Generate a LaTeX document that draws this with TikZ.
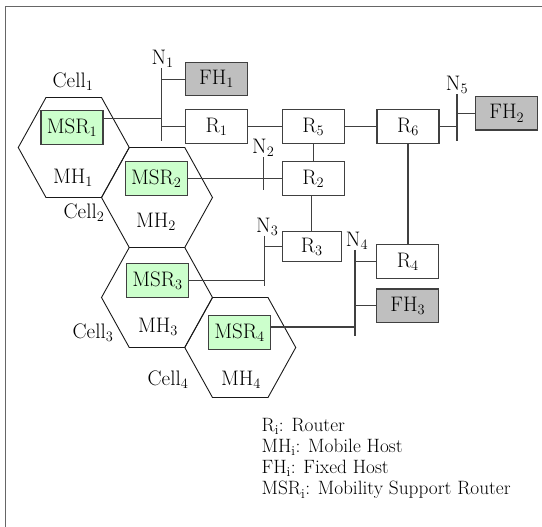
\documentclass[tikz,border=0pt]{standalone}
\usepackage{amsmath,amssymb}
\usepackage{fontspec}
\usepackage{tikz}
\usetikzlibrary{positioning,calc}

\begin{document}
\begin{tikzpicture}[
  x=1pt, y=-1pt,
  font=\fontsize{21}{24}\selectfont,
  frameline/.style={draw=black!60, line width=1.2pt},
  hexline/.style={draw=black!90, line width=0.9pt},
  netline/.style={draw=black!75, line width=1.1pt},
  rtbox/.style={rectangle, draw=black!75, fill=white, line width=1.1pt, minimum width=62pt, minimum height=33.5pt, inner sep=1pt},
  fhbox/.style={rtbox, fill=black!25},
  msrbox/.style={rtbox, fill=green!20},
  lbl/.style={inner sep=0.5pt}
]
  \useasboundingbox (0,0) rectangle (542,527);
  \draw[frameline] (5.5,527) -- (5.5,6.5) -- (542,6.5);

  % cells
  \foreach \cx/\cy in {73.75/147.5, 157/197.5, 157/297.5, 240.25/347.5}
    \draw[hexline] (\cx-55.5,\cy) -- (\cx-27.75,\cy-50) -- (\cx+27.75,\cy-50)
      -- (\cx+55.5,\cy) -- (\cx+27.75,\cy+50) -- (\cx-27.75,\cy+50) -- cycle;
  \node[lbl] (cell1) at (73,82) {Cell$_1$};
  \node[lbl] (cell2) at (84,213) {Cell$_2$};
  \node[lbl] (cell3) at (93,333) {Cell$_3$};
  \node[lbl] (cell4) at (168,380) {Cell$_4$};
  \node[lbl] (mh1) at (73,178) {MH$_1$};
  \node[lbl] (mh2) at (156,222) {MH$_2$};
  \node[lbl] (mh3) at (158,327) {MH$_3$};
  \node[lbl] (mh4) at (241,380) {MH$_4$};

  \node[msrbox] (msr1) at (72,127.5) {MSR$_1$};
  \node[msrbox] (msr2) at (156.3,178.7) {MSR$_2$};
  \node[msrbox] (msr3) at (157.5,280.3) {MSR$_3$};
  \node[msrbox] (msr4) at (239.5,332.5) {MSR$_4$};

  % routers and fixed hosts
  \node[rtbox] (r1) at (216.5,126.7) {R$_1$};
  \node[rtbox] (r5) at (313.3,126.7) {R$_5$};
  \node[rtbox] (r6) at (408,126.7) {R$_6$};
  \node[rtbox] (r2) at (313.3,178.7) {R$_2$};
  \node[rtbox, minimum width=58.7pt, minimum height=30pt] (r3) at (311.7,246.7) {R$_3$};
  \node[rtbox] (r4) at (407.8,261.7) {R$_4$};
  \node[fhbox] (fh1) at (216.5,79.2) {FH$_1$};
  \node[fhbox] (fh2) at (506.8,113.3) {FH$_2$};
  \node[fhbox] (fh3) at (407.8,305.7) {FH$_3$};

  % networks
  \coordinate (n1t) at (161.7,68);   \coordinate (n1b) at (161.7,141);
  \coordinate (n2t) at (263.3,157.3); \coordinate (n2b) at (263.3,190);
  \coordinate (n3t) at (264.3,236);  \coordinate (n3b) at (264.3,286);
  \coordinate (n4t) at (355,250);    \coordinate (n4b) at (355,336);
  \coordinate (n5t) at (457,94.3);   \coordinate (n5b) at (457,140.7);
  \node[lbl, above=0pt of n1t, xshift=1pt] (n1) {N$_1$};
  \node[lbl, above=0pt of n2t] (n2) {N$_2$};
  \node[lbl, above=0pt of n3t, xshift=3pt] (n3) {N$_3$};
  \node[lbl, above=0pt of n4t, xshift=2pt] (n4) {N$_4$};
  \node[lbl, above=0pt of n5t] (n5) {N$_5$};

  \draw[netline] (n1t) -- (n1b);
  \draw[netline] (fh1.west) -- (fh1.west -| n1t);
  \draw[netline] ([yshift=9pt]msr1.east) -- ([yshift=9pt]msr1.east -| n1t);
  \draw[netline] (r1.west) -- (r1.west -| n1t);
  \draw[netline] (r1) -- (r5);
  \draw[netline] (r5) -- (r6);
  \draw[netline] (n5t) -- (n5b);
  \draw[netline] (r6.east) -- (r6.east -| n5t);
  \draw[netline] (fh2.west) -- (fh2.west -| n5t);
  \draw[netline] (r5) -- (r2);
  \draw[netline] (n2t) -- (n2b);
  \draw[netline] (msr2.east) -- (r2.west);
  \draw[netline] (r2.south -| r3.north) -- (r3.north);
  \draw[netline] (n3t) -- (n3b);
  \draw[netline] (r3.west) -- (r3.west -| n3t);
  \draw[netline] (msr3.east) -- (msr3.east -| n3t);
  \draw[netline] (r6.south) -- (r6.south |- r4.north);
  \draw[netline] (n4t) -- (n4b);
  \draw[netline] (r4.west) -- (r4.west -| n4t);
  \draw[netline] (fh3.west) -- (fh3.west -| n4t);
  \draw[netline] ([yshift=5.5pt]msr4.east) -- ([yshift=5.5pt]msr4.east -| n4t);

  % legend
  \node[anchor=north west, align=left, inner sep=0pt, font=\fontsize{19.3}{21.2}\selectfont] (legend) at (261.5,418)
    {R$_\mathrm{i}$: Router\\MH$_\mathrm{i}$: Mobile Host\\FH$_\mathrm{i}$: Fixed Host\\MSR$_\mathrm{i}$: Mobility Support Router};
\end{tikzpicture}
\end{document}
